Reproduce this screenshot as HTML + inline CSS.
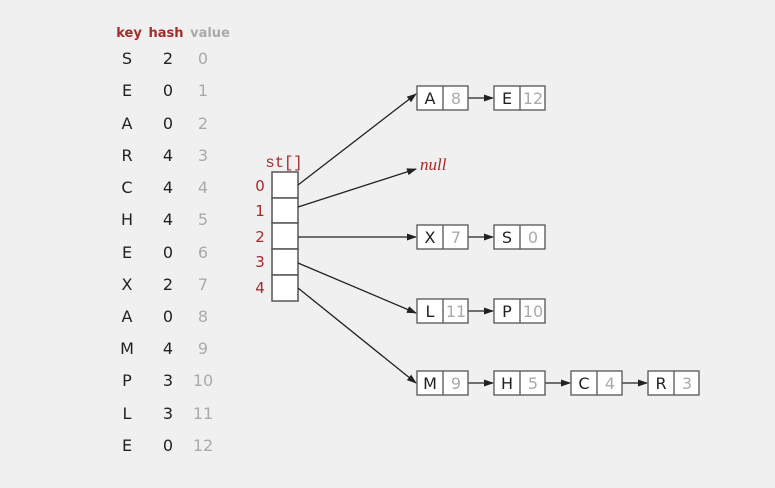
<!DOCTYPE html>
<html><head><meta charset="utf-8"><style>
html,body{margin:0;padding:0;background:#f0f0f0;}
svg{display:block;}
text{font-family:"DejaVu Sans","Liberation Sans",sans-serif;}
</style></head><body>
<svg width="775" height="488" viewBox="0 0 775 488" xmlns="http://www.w3.org/2000/svg">
<defs><marker id="a" markerWidth="10" markerHeight="8" refX="9" refY="4" orient="auto" markerUnits="userSpaceOnUse"><path d="M0,0.5 L10,4 L0,7.5 Z" fill="#222"/></marker></defs>
<rect width="775" height="488" fill="#f0f0f0"/>
<g font-size="13" font-weight="bold" text-anchor="middle">
<text x="129" y="37" fill="#a52a2a">key</text>
<text x="166" y="37" fill="#a52a2a">hash</text>
<text x="210" y="37" fill="#aaa">value</text>
</g>
<g font-size="16" text-anchor="middle" fill="#222">
<text x="127" y="64">S</text><text x="168" y="64">2</text>
<text x="127" y="96">E</text><text x="168" y="96">0</text>
<text x="127" y="129">A</text><text x="168" y="129">0</text>
<text x="127" y="161">R</text><text x="168" y="161">4</text>
<text x="127" y="193">C</text><text x="168" y="193">4</text>
<text x="127" y="225">H</text><text x="168" y="225">4</text>
<text x="127" y="258">E</text><text x="168" y="258">0</text>
<text x="127" y="290">X</text><text x="168" y="290">2</text>
<text x="127" y="322">A</text><text x="168" y="322">0</text>
<text x="127" y="354">M</text><text x="168" y="354">4</text>
<text x="127" y="386">P</text><text x="168" y="386">3</text>
<text x="127" y="419">L</text><text x="168" y="419">3</text>
<text x="127" y="451">E</text><text x="168" y="451">0</text>
</g>
<g font-size="16" text-anchor="middle" fill="#aaa">
<text x="203" y="64">0</text><text x="203" y="96">1</text><text x="203" y="129">2</text><text x="203" y="161">3</text><text x="203" y="193">4</text><text x="203" y="225">5</text><text x="203" y="258">6</text><text x="203" y="290">7</text><text x="203" y="322">8</text><text x="203" y="354">9</text><text x="203" y="386">10</text><text x="203" y="419">11</text><text x="203" y="451">12</text>
</g>
<text x="284" y="167" font-size="15.5" fill="#a52a2a" text-anchor="middle" style="font-family:'Liberation Mono',monospace">st[]</text>
<g font-size="15" fill="#a52a2a" text-anchor="middle">
<text x="260" y="191">0</text><text x="260" y="216">1</text><text x="260" y="242">2</text><text x="260" y="267">3</text><text x="260" y="293">4</text>
</g>
<g fill="#fff" stroke="#555" stroke-width="1.5">
<rect x="272" y="172" width="26" height="26"/><rect x="272" y="198" width="26" height="25"/><rect x="272" y="223" width="26" height="26"/><rect x="272" y="249" width="26" height="26"/><rect x="272" y="275" width="26" height="26"/>
</g>
<g stroke="#222" stroke-width="1.3" marker-end="url(#a)">
<line x1="298" y1="185" x2="416" y2="94"/>
<line x1="298" y1="207" x2="416" y2="169"/>
<line x1="298" y1="237" x2="416" y2="237"/>
<line x1="298" y1="263" x2="416" y2="313"/>
<line x1="298" y1="288" x2="416" y2="383"/>
<line x1="468" y1="98" x2="493" y2="98"/>
<line x1="468" y1="237" x2="493" y2="237"/>
<line x1="468" y1="311" x2="493" y2="311"/>
<line x1="468" y1="383" x2="493" y2="383"/>
<line x1="545" y1="383" x2="570" y2="383"/>
<line x1="622" y1="383" x2="647" y2="383"/>
</g>
<text x="420" y="170" font-size="17" font-style="italic" fill="#a52a2a" style="font-family:'Liberation Serif',serif">null</text>
<g stroke="#555" stroke-width="1.3" fill="#fff">
<rect x="417" y="86" width="51" height="24"/><line x1="443" y1="86" x2="443" y2="110"/>
<rect x="494" y="86" width="51" height="24"/><line x1="520" y1="86" x2="520" y2="110"/>
<rect x="417" y="225" width="51" height="24"/><line x1="443" y1="225" x2="443" y2="249"/>
<rect x="494" y="225" width="51" height="24"/><line x1="520" y1="225" x2="520" y2="249"/>
<rect x="417" y="299" width="51" height="24"/><line x1="443" y1="299" x2="443" y2="323"/>
<rect x="494" y="299" width="51" height="24"/><line x1="520" y1="299" x2="520" y2="323"/>
<rect x="417" y="371" width="51" height="24"/><line x1="443" y1="371" x2="443" y2="395"/>
<rect x="494" y="371" width="51" height="24"/><line x1="520" y1="371" x2="520" y2="395"/>
<rect x="571" y="371" width="51" height="24"/><line x1="597" y1="371" x2="597" y2="395"/>
<rect x="648" y="371" width="51" height="24"/><line x1="674" y1="371" x2="674" y2="395"/>
</g>
<g font-size="16" text-anchor="middle" fill="#222">
<text x="430" y="104">A</text><text x="507" y="104">E</text>
<text x="430" y="243">X</text><text x="507" y="243">S</text>
<text x="430" y="317">L</text><text x="507" y="317">P</text>
<text x="430" y="389">M</text><text x="507" y="389">H</text><text x="584" y="389">C</text><text x="661" y="389">R</text>
</g>
<g font-size="16" text-anchor="middle" fill="#aaa">
<text x="456" y="104">8</text><text x="533" y="104">12</text>
<text x="456" y="243">7</text><text x="533" y="243">0</text>
<text x="456" y="317">11</text><text x="533" y="317">10</text>
<text x="456" y="389">9</text><text x="533" y="389">5</text><text x="610" y="389">4</text><text x="687" y="389">3</text>
</g>
</svg>
</body></html>
